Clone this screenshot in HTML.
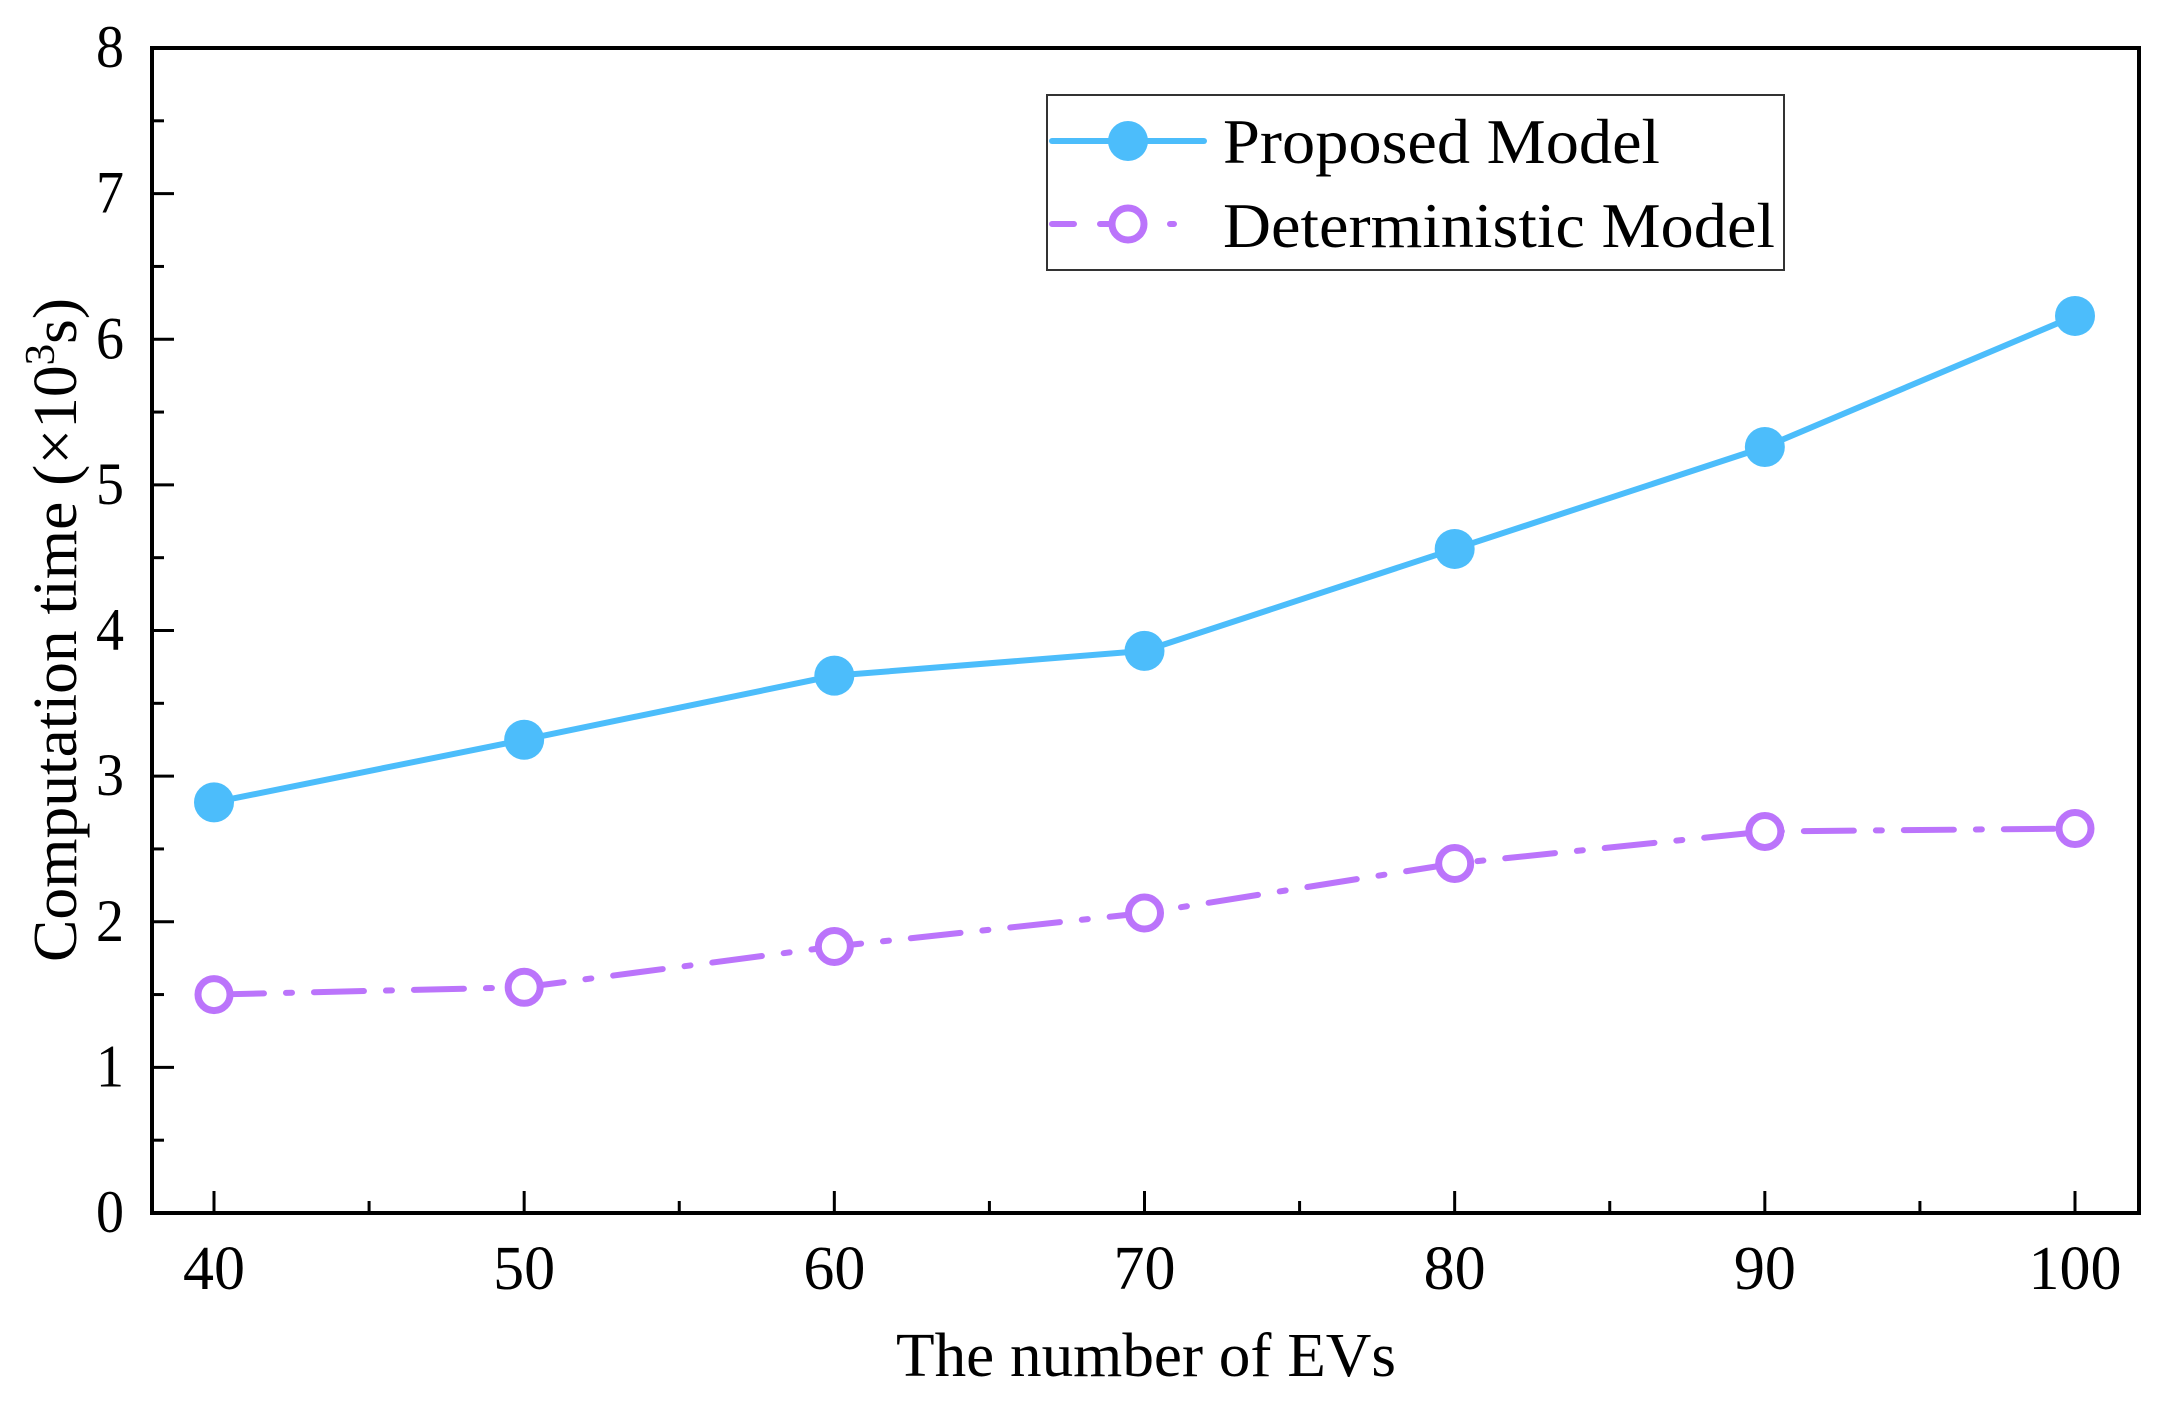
<!DOCTYPE html>
<html><head><meta charset="utf-8"><style>
html,body{margin:0;padding:0;background:#fff;}
svg{display:block;font-family:"Liberation Serif",serif;}
</style></head><body>
<svg id="chart" width="2162" height="1404" viewBox="0 0 2162 1404" xmlns="http://www.w3.org/2000/svg">
<g id="plot"></g>
</svg>
<script>
const categories = [40, 50, 60, 70, 80, 90, 100];
const proposedValues = [2.82, 3.25, 3.69, 3.86, 4.56, 5.26, 6.16];
const deterministicValues = [1.50, 1.55, 1.83, 2.06, 2.40, 2.62, 2.64];
const yTickLabels = [0, 1, 2, 3, 4, 5, 6, 7, 8];
const xTickLabels = [40, 50, 60, 70, 80, 90, 100];

const NS = "http://www.w3.org/2000/svg";
const L = 152, R = 2139, T = 48, B = 1213;
const xScale = v => 214 + (v - 40) * (2075 - 214) / 60;
const yScale = v => B - v * (B - T) / 8;
const g = document.getElementById('plot');
function mk(tag, attrs, parent) {
  const e = document.createElementNS(NS, tag);
  for (const k in attrs) e.setAttribute(k, attrs[k]);
  (parent || g).appendChild(e);
  return e;
}
const frame = mk('rect', {x: L, y: T, width: R - L, height: B - T, fill: 'none', stroke: '#000', 'stroke-width': 4});


for (let v = 0; v <= 8; v += 0.5) {
  const y = yScale(v);
  const major = Number.isInteger(v);
  const t = mk('line', {x1: L, x2: L + (major ? 22 : 12), y1: y, y2: y, stroke: '#000', 'stroke-width': 3});
  
  
}
yTickLabels.forEach(v => {
  const t = mk('text', {x: 124, y: yScale(v) + 19, 'text-anchor': 'end', 'font-size': 60, textLength: 28, lengthAdjust: 'spacingAndGlyphs'});
  t.textContent = v;
  
  
});
for (let v = 40; v <= 100; v += 5) {
  const x = xScale(v);
  const major = v % 10 === 0;
  const t = mk('line', {x1: x, x2: x, y1: B, y2: B - (major ? 22 : 12), stroke: '#000', 'stroke-width': 3});
  
  
}
xTickLabels.forEach(v => {
  const s = String(v);
  const t = mk('text', {x: xScale(v), y: 1289, 'text-anchor': 'middle', 'font-size': 62, textLength: s.length * 31, lengthAdjust: 'spacingAndGlyphs'});
  t.textContent = s;
  
  
});
const xt = mk('text', {x: 1146, y: 1376, 'text-anchor': 'middle', 'font-size': 62, textLength: 500, lengthAdjust: 'spacingAndGlyphs'});
xt.textContent = 'The number of EVs';


const yt = mk('text', {x: 0, y: 0, 'text-anchor': 'middle', 'font-size': 62, transform: 'translate(76,630) rotate(-90)', textLength: 664, lengthAdjust: 'spacingAndGlyphs'});
yt.innerHTML = 'Computation time (×10<tspan dy="-22" font-size="42">3</tspan><tspan dy="22">s)</tspan>';


const BLUE = '#4cbdfb', PURPLE = '#bb74fb';
function series(vals, color, dash, filled, name) {
  const pts = categories.map((c, i) => xScale(c) + ',' + yScale(vals[i])).join(' ');
  const pl = mk('polyline', {points: pts, fill: 'none', stroke: color, 'stroke-width': 6, 'stroke-dasharray': dash, 'stroke-linecap': 'round'});
  
  
  categories.forEach((c, i) => {
    const m = mk('circle', filled
      ? {cx: xScale(c), cy: yScale(vals[i]), r: 20, fill: color}
      : {cx: xScale(c), cy: yScale(vals[i]), r: 16, fill: '#fff', stroke: color, 'stroke-width': 7});
    
    
  });
}
series(proposedValues, BLUE, 'none', true, 'proposed-model');
series(deterministicValues, PURPLE, '50 22 6 22', false, 'deterministic-model');
const lg = mk('g', {});


const lb = mk('rect', {x: 1047, y: 95, width: 737, height: 175, fill: '#fff', stroke: '#333', 'stroke-width': 2}, lg);


const l1 = mk('line', {x1: 1052, x2: 1204, y1: 141, y2: 141, stroke: BLUE, 'stroke-width': 6, 'stroke-linecap': 'round'}, lg);


const c1 = mk('circle', {cx: 1128, cy: 141, r: 20, fill: BLUE}, lg);


const t1 = mk('text', {x: 1223, y: 163, 'font-size': 64, textLength: 437, lengthAdjust: 'spacingAndGlyphs'}, lg);
t1.textContent = 'Proposed Model';


const l2 = mk('polyline', {points: '1052,224 1204,224', fill: 'none', stroke: PURPLE, 'stroke-width': 6, 'stroke-dasharray': '22 26 40 30 4 40', 'stroke-linecap': 'round'}, lg);


const c2 = mk('circle', {cx: 1128, cy: 224, r: 16, fill: '#fff', stroke: PURPLE, 'stroke-width': 7}, lg);


const t2 = mk('text', {x: 1223, y: 247, 'font-size': 64, textLength: 552, lengthAdjust: 'spacingAndGlyphs'}, lg);
t2.textContent = 'Deterministic Model';


</script>
</body></html>
